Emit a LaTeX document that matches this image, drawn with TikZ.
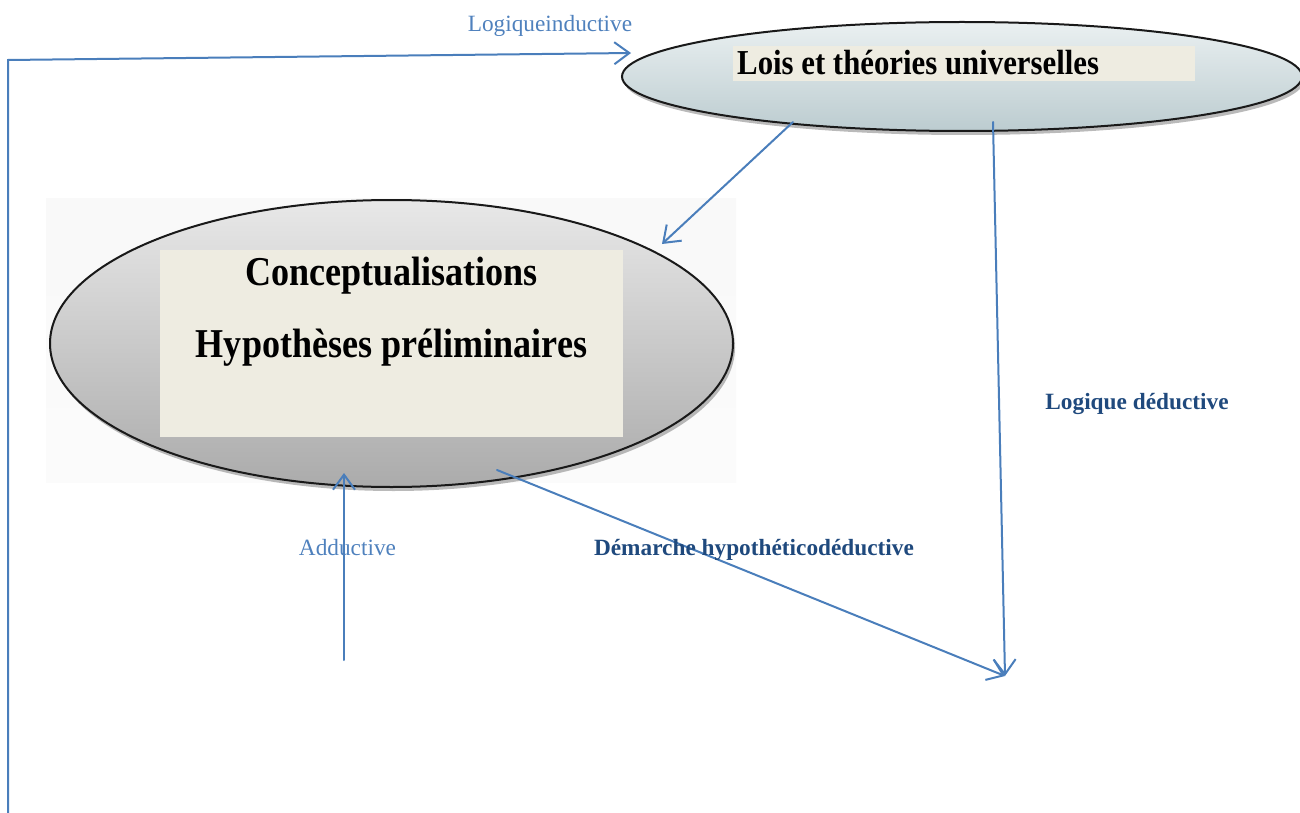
\documentclass[tikz,border=0pt]{standalone}
\usepackage{fontspec}
\setmainfont{Liberation Serif}
\newfontfamily\condserif[FakeStretch=0.88]{Liberation Serif}
\usetikzlibrary{arrows.meta,shapes.geometric,shadows}
\definecolor{conn}{HTML}{4A7EBB}
\definecolor{lblue}{HTML}{4F81BD}
\definecolor{dblue}{HTML}{1F497D}
\definecolor{beige}{HTML}{EEECE1}
\definecolor{topA}{HTML}{EAF0F1}
\definecolor{topB}{HTML}{BCCCD0}
\definecolor{bigA}{HTML}{E8E8E8}
\definecolor{bigB}{HTML}{ABABAB}
\tikzset{
  conline/.style={draw=conn, line width=2pt, line cap=round, -{Straight Barb[length=15pt,width=22pt,line width=2pt]}},
  ellbase/.style={ellipse, draw=black!90, line width=2pt, inner sep=0pt,
     drop shadow={shadow xshift=2pt, shadow yshift=-4pt, opacity=0.45, fill=black!60}},
  beigebox/.style={fill=beige, draw=none, inner sep=0pt},
  lightlbl/.style={text=lblue, font=\fontsize{23.3}{26}\selectfont, inner sep=0pt},
  darklbl/.style={text=dblue, font=\bfseries\fontsize{23.3}{26}\selectfont, inner sep=0pt},
}
\begin{document}
\begin{tikzpicture}[x=1pt,y=-1pt]
\useasboundingbox (0,0) rectangle (1300,813);
% faint picture background behind big ellipse
\fill[top color=black!2.5, bottom color=black!1.5] (46,198) rectangle (736,482);
% big ellipse
\node[ellbase, minimum width=683pt, minimum height=287pt, top color=bigA, bottom color=bigB] (big) at (391.5,343.5) {};
\node[beigebox, minimum width=463pt, minimum height=187pt] (bigbox) at (391.5,343.5) {};
\node[font=\bfseries\condserif\fontsize{41}{44}\selectfont, inner sep=0pt, anchor=base] (t1) at (391.5,285) {Conceptualisations};
\node[font=\bfseries\condserif\fontsize{41}{44}\selectfont, inner sep=0pt, anchor=base] (t2) at (391.5,357) {Hypothèses préliminaires};
% top ellipse
\node[ellbase, minimum width=680pt, minimum height=109pt, top color=topA, bottom color=topB] (top) at (962,76.5) {};
\node[beigebox, minimum width=462pt, minimum height=35pt] (topbox) at (964,63.5) {};
\node[font=\bfseries\condserif\fontsize{35}{38}\selectfont, inner sep=0pt, anchor=base west] (t3) at (737,75) {Lois et théories universelles};
% coordinates
\coordinate (bl) at (8,813);
\coordinate (tl) at (8,60);
\coordinate (ind) at (631,53);
\coordinate (a1) at (793,122);
\coordinate (a1e) at (662,244);
\coordinate (d1) at (993,122);
\coordinate (meet) at (1005,676);
\coordinate (h1) at (497,470);
\coordinate (ab0) at (344,660);
\coordinate (ab1) at (344,473);
% connectors
\draw[conline] (bl) -- (tl) -- (ind);
\draw[conline] (a1) -- (a1e);
\draw[conline] (d1) -- (meet);
\draw[conline] (h1) -- (meet);
\draw[conline] (ab0) -- (ab1);
% labels
\node[lightlbl, anchor=base] (lind) at (550,32) {Logiqueinductive};
\node[lightlbl, anchor=base] (ladd) at (347.5,555) {Adductive};
\node[darklbl, anchor=base] (lded) at (1137,409) {Logique déductive};
\node[darklbl, anchor=base] (lhyp) at (754,555) {Démarche hypothéticodéductive};
\end{tikzpicture}
\end{document}
